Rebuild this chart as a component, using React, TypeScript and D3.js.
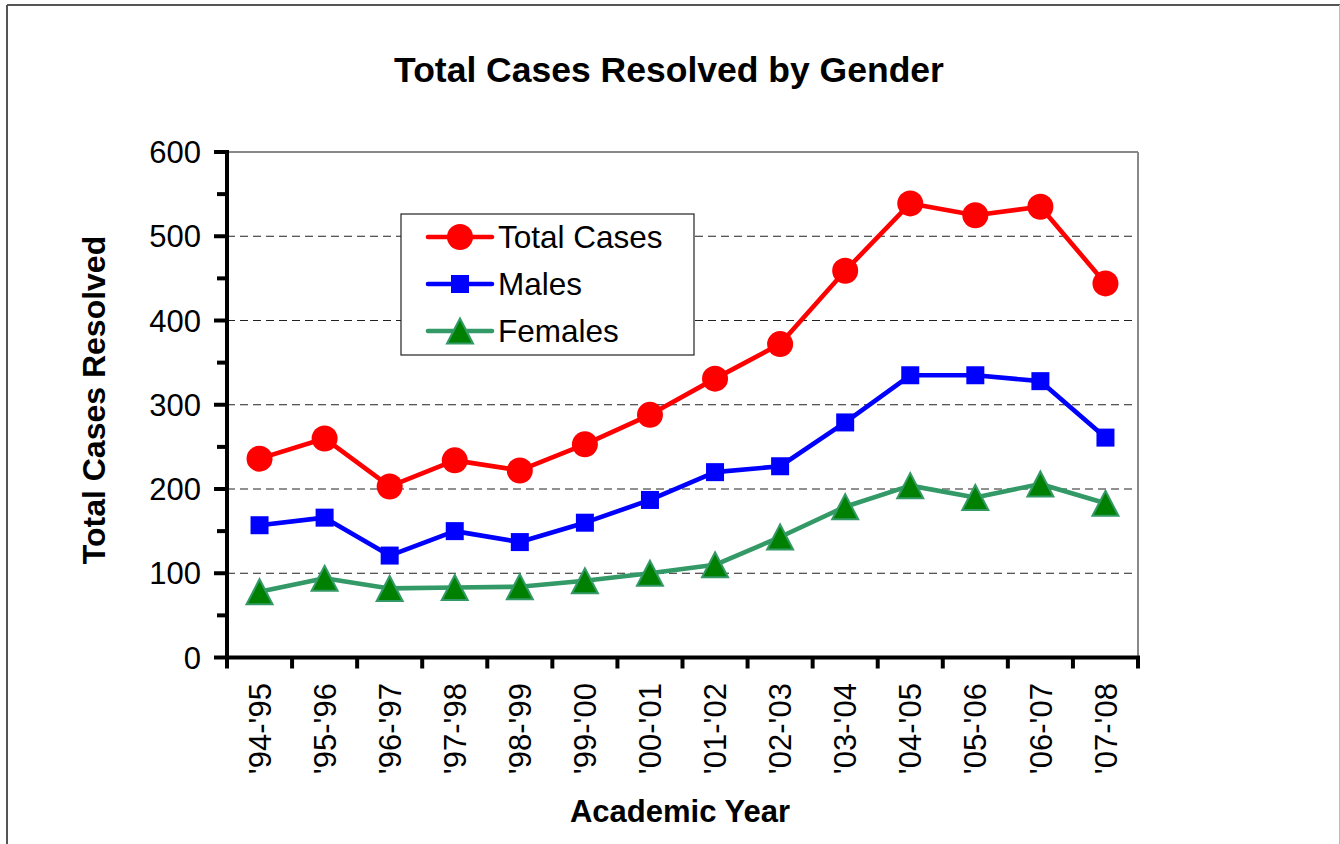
import React from "react";
import * as d3 from "d3";

const years = ["'94-'95", "'95-'96", "'96-'97", "'97-'98", "'98-'99", "'99-'00", "'00-'01", "'01-'02", "'02-'03", "'03-'04", "'04-'05", "'05-'06", "'06-'07", "'07-'08"];
const totalCases = [236, 260, 203, 234, 222, 253, 288, 331, 372, 459, 539, 525, 535, 444];
const males = [157, 166, 121, 150, 137, 160, 187, 220, 227, 279, 335, 335, 328, 261];
const females = [78, 94, 82, 83, 84, 91, 100, 110, 143, 179, 204, 190, 206, 183];
const yTicks = [0, 100, 200, 300, 400, 500, 600];
const yMinorTicks = [50, 150, 250, 350, 450, 550];
const legendLabels = ["Total Cases", "Males", "Females"];

const FONT = "'Liberation Sans', Arial, Helvetica, sans-serif";

export default function App() {
  const W = 1340, H = 844;
  const left = 227, right = 1138, top = 152, bottom = 657.5;
  const x = d3.scaleBand<string>().domain(years).range([left, right]).padding(0);
  const y = d3.scaleLinear().domain([0, 600]).range([bottom, top]);
  const cx = (i: number) => (x(years[i]) as number) + x.bandwidth() / 2;
  const line = d3.line<number>().x((_, i) => cx(i)).y((d) => y(d));

  const tri = (px: number, py: number, s = 1) => {
    const hw = 13 * s, hh = 12.5 * s;
    return `M${px},${py - hh}L${px + hw},${py + hh}L${px - hw},${py + hh}Z`;
  };

  const boundaries = d3.range(years.length + 1).map((i) => left + i * x.bandwidth());

  const legendRows = [248, 295, 342];
  const legendMid = [237, 284, 331];

  return (
    <svg width={W} height={H} style={{ position: "absolute", left: 0, top: 0, background: "#fff" }} fontFamily={FONT}>
      <rect x={0} y={0} width={W} height={H} fill="#fff" />
      {/* outer border */}
      <line x1={7} y1={5} x2={W} y2={5} stroke="#555" strokeWidth={2} />
      <line x1={7} y1={5} x2={7} y2={H} stroke="#555" strokeWidth={2} />
      <line x1={1339.5} y1={5} x2={1339.5} y2={H} stroke="#bbb" strokeWidth={1} />

      {/* title */}
      <text x={669} y={82} textAnchor="middle" fontSize={35.5} fontWeight="bold" fill="#000">Total Cases Resolved by Gender</text>

      {/* gridlines */}
      {yTicks.filter((t) => t > 0 && t < 600).map((t) => (
        <line key={t} x1={left} x2={right} y1={y(t)} y2={y(t)} stroke="#222" strokeWidth={1.1} strokeDasharray="8,5" />
      ))}
      {/* plot border top / right */}
      <line x1={left} x2={right} y1={top} y2={top} stroke="#888" strokeWidth={2} />
      <line x1={right} x2={right} y1={top} y2={bottom} stroke="#888" strokeWidth={2} />

      {/* y axis */}
      <line x1={left} x2={left} y1={top - 2} y2={bottom + 2} stroke="#000" strokeWidth={4} />
      {yTicks.map((t) => (
        <g key={t}>
          <line x1={214} x2={left} y1={y(t)} y2={y(t)} stroke="#000" strokeWidth={4} />
          <text x={201} y={y(t)} dy="0.36em" textAnchor="end" fontSize={31} fill="#000">{t}</text>
        </g>
      ))}
      {yMinorTicks.map((t) => (
        <line key={t} x1={217} x2={left} y1={y(t)} y2={y(t)} stroke="#000" strokeWidth={4} />
      ))}

      {/* x axis */}
      <line x1={left - 2} x2={right + 2} y1={bottom} y2={bottom} stroke="#000" strokeWidth={4} />
      {boundaries.map((bx, i) => (
        <line key={i} x1={bx} x2={bx} y1={bottom} y2={bottom + 11} stroke="#000" strokeWidth={4} />
      ))}
      {years.map((yr, i) => (
        <text key={yr} transform={`translate(${cx(i)},683) rotate(-90)`} dy="0.36em" textAnchor="end" fontSize={31} fill="#000">{yr}</text>
      ))}

      {/* axis titles */}
      <text transform="translate(105,400) rotate(-90)" textAnchor="middle" fontSize={32} fontWeight="bold" fill="#000">Total Cases Resolved</text>
      <text x={680} y={822} textAnchor="middle" fontSize={31} fontWeight="bold" fill="#000">Academic Year</text>

      {/* series */}
      <path d={line(totalCases) || ""} fill="none" stroke="#ff0000" strokeWidth={4.6} strokeLinejoin="round" />
      <path d={line(males) || ""} fill="none" stroke="#0000ff" strokeWidth={4.6} strokeLinejoin="round" />
      <path d={line(females) || ""} fill="none" stroke="#339966" strokeWidth={4.6} strokeLinejoin="round" />

      {totalCases.map((v, i) => (
        <circle key={i} cx={cx(i)} cy={y(v)} r={13} fill="#ff0000" />
      ))}
      {males.map((v, i) => (
        <rect key={i} x={cx(i) - 9} y={y(v) - 9} width={18} height={18} fill="#0000ff" />
      ))}
      {females.map((v, i) => (
        <path key={i} d={tri(cx(i), y(v))} fill="#008000" stroke="#339966" strokeWidth={2} strokeLinejoin="miter" />
      ))}

      {/* legend */}
      <rect x={401} y={214} width={293} height={141} fill="#fff" stroke="#222" strokeWidth={1.2} />
      {legendLabels.map((lab, i) => (
        <g key={lab}>
          <line x1={428} x2={492} y1={legendMid[i]} y2={legendMid[i]} stroke={["#ff0000", "#0000ff", "#339966"][i]} strokeWidth={4.6} strokeLinecap="round" />
          {i === 0 && <circle cx={460} cy={legendMid[i]} r={13} fill="#ff0000" />}
          {i === 1 && <rect x={451} y={legendMid[i] - 9} width={18} height={18} fill="#0000ff" />}
          {i === 2 && <path d={tri(460, legendMid[i])} fill="#008000" stroke="#339966" strokeWidth={2} />}
          <text x={498} y={legendRows[i]} fontSize={31.5} fill="#000">{lab}</text>
        </g>
      ))}
    </svg>
  );
}
